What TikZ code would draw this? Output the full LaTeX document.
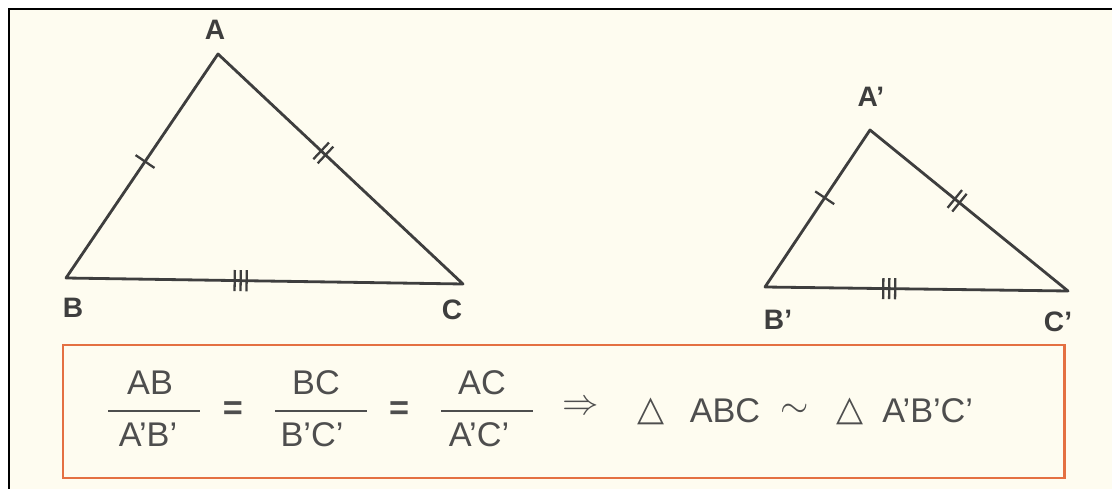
\documentclass[tikz,border=0pt]{standalone}
\usepackage{fontspec}
\setmainfont{Liberation Sans}
\newfontfamily\symf{DejaVu Sans}
\usetikzlibrary{decorations.markings}
\definecolor{paper}{RGB}{254,252,240}
\definecolor{ink}{RGB}{62,62,62}
\definecolor{txt}{RGB}{78,78,78}
\definecolor{boxc}{RGB}{228,112,66}
\tikzset{
  side/.style={draw=ink, line width=1.6pt, line join=round},
  tickline/.style={draw=ink, line width=1.3pt},
  tickone/.style={postaction={decorate,decoration={markings,
     mark=at position #1 with {\draw[tickline] (0,-6.5pt)--(0,6.5pt);}}}},
  ticktwo/.style={postaction={decorate,decoration={markings,
     mark=at position #1 with {\draw[tickline] (-1.7pt,-6.5pt)--(-1.7pt,6.5pt) (1.7pt,-6.5pt)--(1.7pt,6.5pt);}}}},
  tickthree/.style={postaction={decorate,decoration={markings,
     mark=at position #1 with {\draw[tickline] (-3.4pt,-6pt)--(-3.4pt,6pt) (0,-6pt)--(0,6pt) (3.4pt,-6pt)--(3.4pt,6pt);}}}},
  vlabel/.style={text=ink, font=\fontsize{16}{18}\selectfont\bfseries, inner sep=0pt},
  ftxt/.style={text=txt, font=\fontsize{19.5}{22}\selectfont, inner sep=0pt},
  fbar/.style={draw=txt, line width=1.7pt},
}
\begin{document}
\begin{tikzpicture}[x=0.02cm,y=-0.02cm]
\useasboundingbox (0,0) rectangle (1112,489);
\fill[white] (0,0) rectangle (1112,489);
\fill[paper] (9,9) rectangle (1112,489);
\draw[black, line width=1.7pt] (9,489) -- (9,9) -- (1112,9);

% big triangle
\coordinate (A) at (218,54);
\coordinate (B) at (66,278);
\coordinate (C) at (463,284);
\draw[side] (A) -- (B) -- (C) -- cycle;
\path[tickone=0.52] (B) -- (A);
\path[ticktwo=0.43] (A) -- (C);
\path[tickthree=0.44] (B) -- (C);
\node[vlabel] (lA) at (215,30) {A};
\node[vlabel] (lB) at (73,308) {B};
\node[vlabel] (lC) at (452,310) {C};

% small triangle
\coordinate (A2) at (870,130);
\coordinate (B2) at (765,287);
\coordinate (C2) at (1068,291);
\draw[side] (A2) -- (B2) -- (C2) -- cycle;
\path[tickone=0.57] (B2) -- (A2);
\path[ticktwo=0.44] (A2) -- (C2);
\path[tickthree=0.41] (B2) -- (C2);
\node[vlabel] (lA2) at (871,97) {A'};
\node[vlabel] (lB2) at (778,320) {B'};
\node[vlabel] (lC2) at (1058,322) {C'};

% formula box
\draw[boxc, line width=1.7pt] (63,345) rectangle (1064,478);
\node[ftxt] (n1) at (150,383) {AB};
\node[ftxt] (d1) at (148,435) {A'B'};
\coordinate (b1l) at (108,411); \coordinate (b1r) at (200,411);
\draw[fbar] (b1l) -- (b1r);
\node[ftxt, font=\fontsize{19.5}{22}\selectfont\bfseries] (eq1) at (233,411) {=};
\node[ftxt] (n2) at (316,383) {BC};
\node[ftxt] (d2) at (312,435) {B'C'};
\coordinate (b2l) at (275,411); \coordinate (b2r) at (367,411);
\draw[fbar] (b2l) -- (b2r);
\node[ftxt, font=\fontsize{19.5}{22}\selectfont\bfseries] (eq2) at (399,411) {=};
\node[ftxt] (n3) at (482,383) {AC};
\node[ftxt] (d3) at (479,435) {A'C'};
\coordinate (b3l) at (441,411); \coordinate (b3r) at (533,411);
\draw[fbar] (b3l) -- (b3r);
\node[ftxt, font=\fontsize{20}{22}\selectfont] (imp) at (581,408) {$\Rightarrow$};
\node[ftxt, font=\fontsize{20}{22}\selectfont\symf] (t1) at (651,411) {△};
\node[ftxt] (abc) at (725,411) {ABC};
\node[ftxt, font=\fontsize{22}{24}\selectfont] (sim) at (795,411) {$\sim$};
\node[ftxt, font=\fontsize{20}{22}\selectfont\symf] (t2) at (850,411) {△};
\node[ftxt, anchor=west] (abc2) at (882,411) {A'B'C'};
\end{tikzpicture}
\end{document}
